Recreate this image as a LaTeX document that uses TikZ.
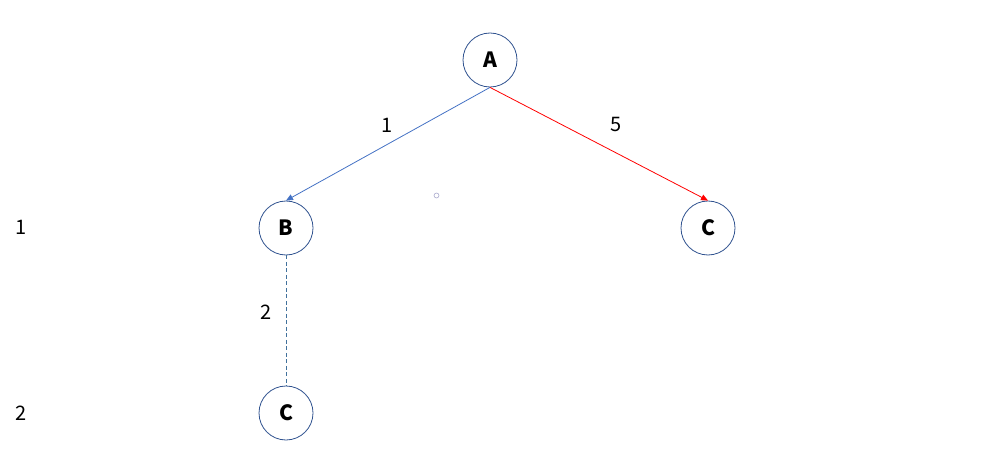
\documentclass[tikz,border=0pt]{standalone}
\usepackage{fontspec}
\setmainfont{Noto Sans CJK SC}
\usetikzlibrary{arrows.meta}
\definecolor{outl}{HTML}{2F528F}
\definecolor{blueln}{HTML}{4472C4}
\definecolor{dashln}{HTML}{41719C}
\definecolor{dotc}{HTML}{A8A8CC}
\begin{document}
\begin{tikzpicture}[x=1pt,y=-1pt,
  vert/.style={circle,draw=outl,line width=0.8pt,minimum size=54pt,inner sep=0pt,font=\fontsize{21}{21}\selectfont\bfseries},
  lbl/.style={font=\fontsize{20}{20}\selectfont,inner sep=0pt},
  tip/.style={-{Triangle[length=7pt,width=6pt]}}]
\useasboundingbox (0,0) rectangle (981,462);
\node[vert] (A) at (490,60) {A};
\node[vert] (B) at (286,228) {B};
\node[vert] (C1) at (708,228) {C};
\node[vert] (C2) at (286,413) {C};
\draw[tip,blueln,line width=0.8pt] (A.south) -- (B.north);
\draw[tip,red,line width=0.8pt] (A.south) -- (C1.north);
\draw[dashln,dash pattern=on 4pt off 2.5pt,line width=0.8pt] (B.south) -- (C2.north);
\node[lbl] (l1) at (387,125) {1};
\node[lbl] (l5) at (616,125) {5};
\node[lbl] (l2) at (266,312) {2};
\node[lbl] (r1) at (21,227) {1};
\node[lbl] (r2) at (21,413) {2};
\draw[color=dotc,line width=0.6pt] (436.5,195.5) circle (2.5pt);
\end{tikzpicture}
\end{document}
